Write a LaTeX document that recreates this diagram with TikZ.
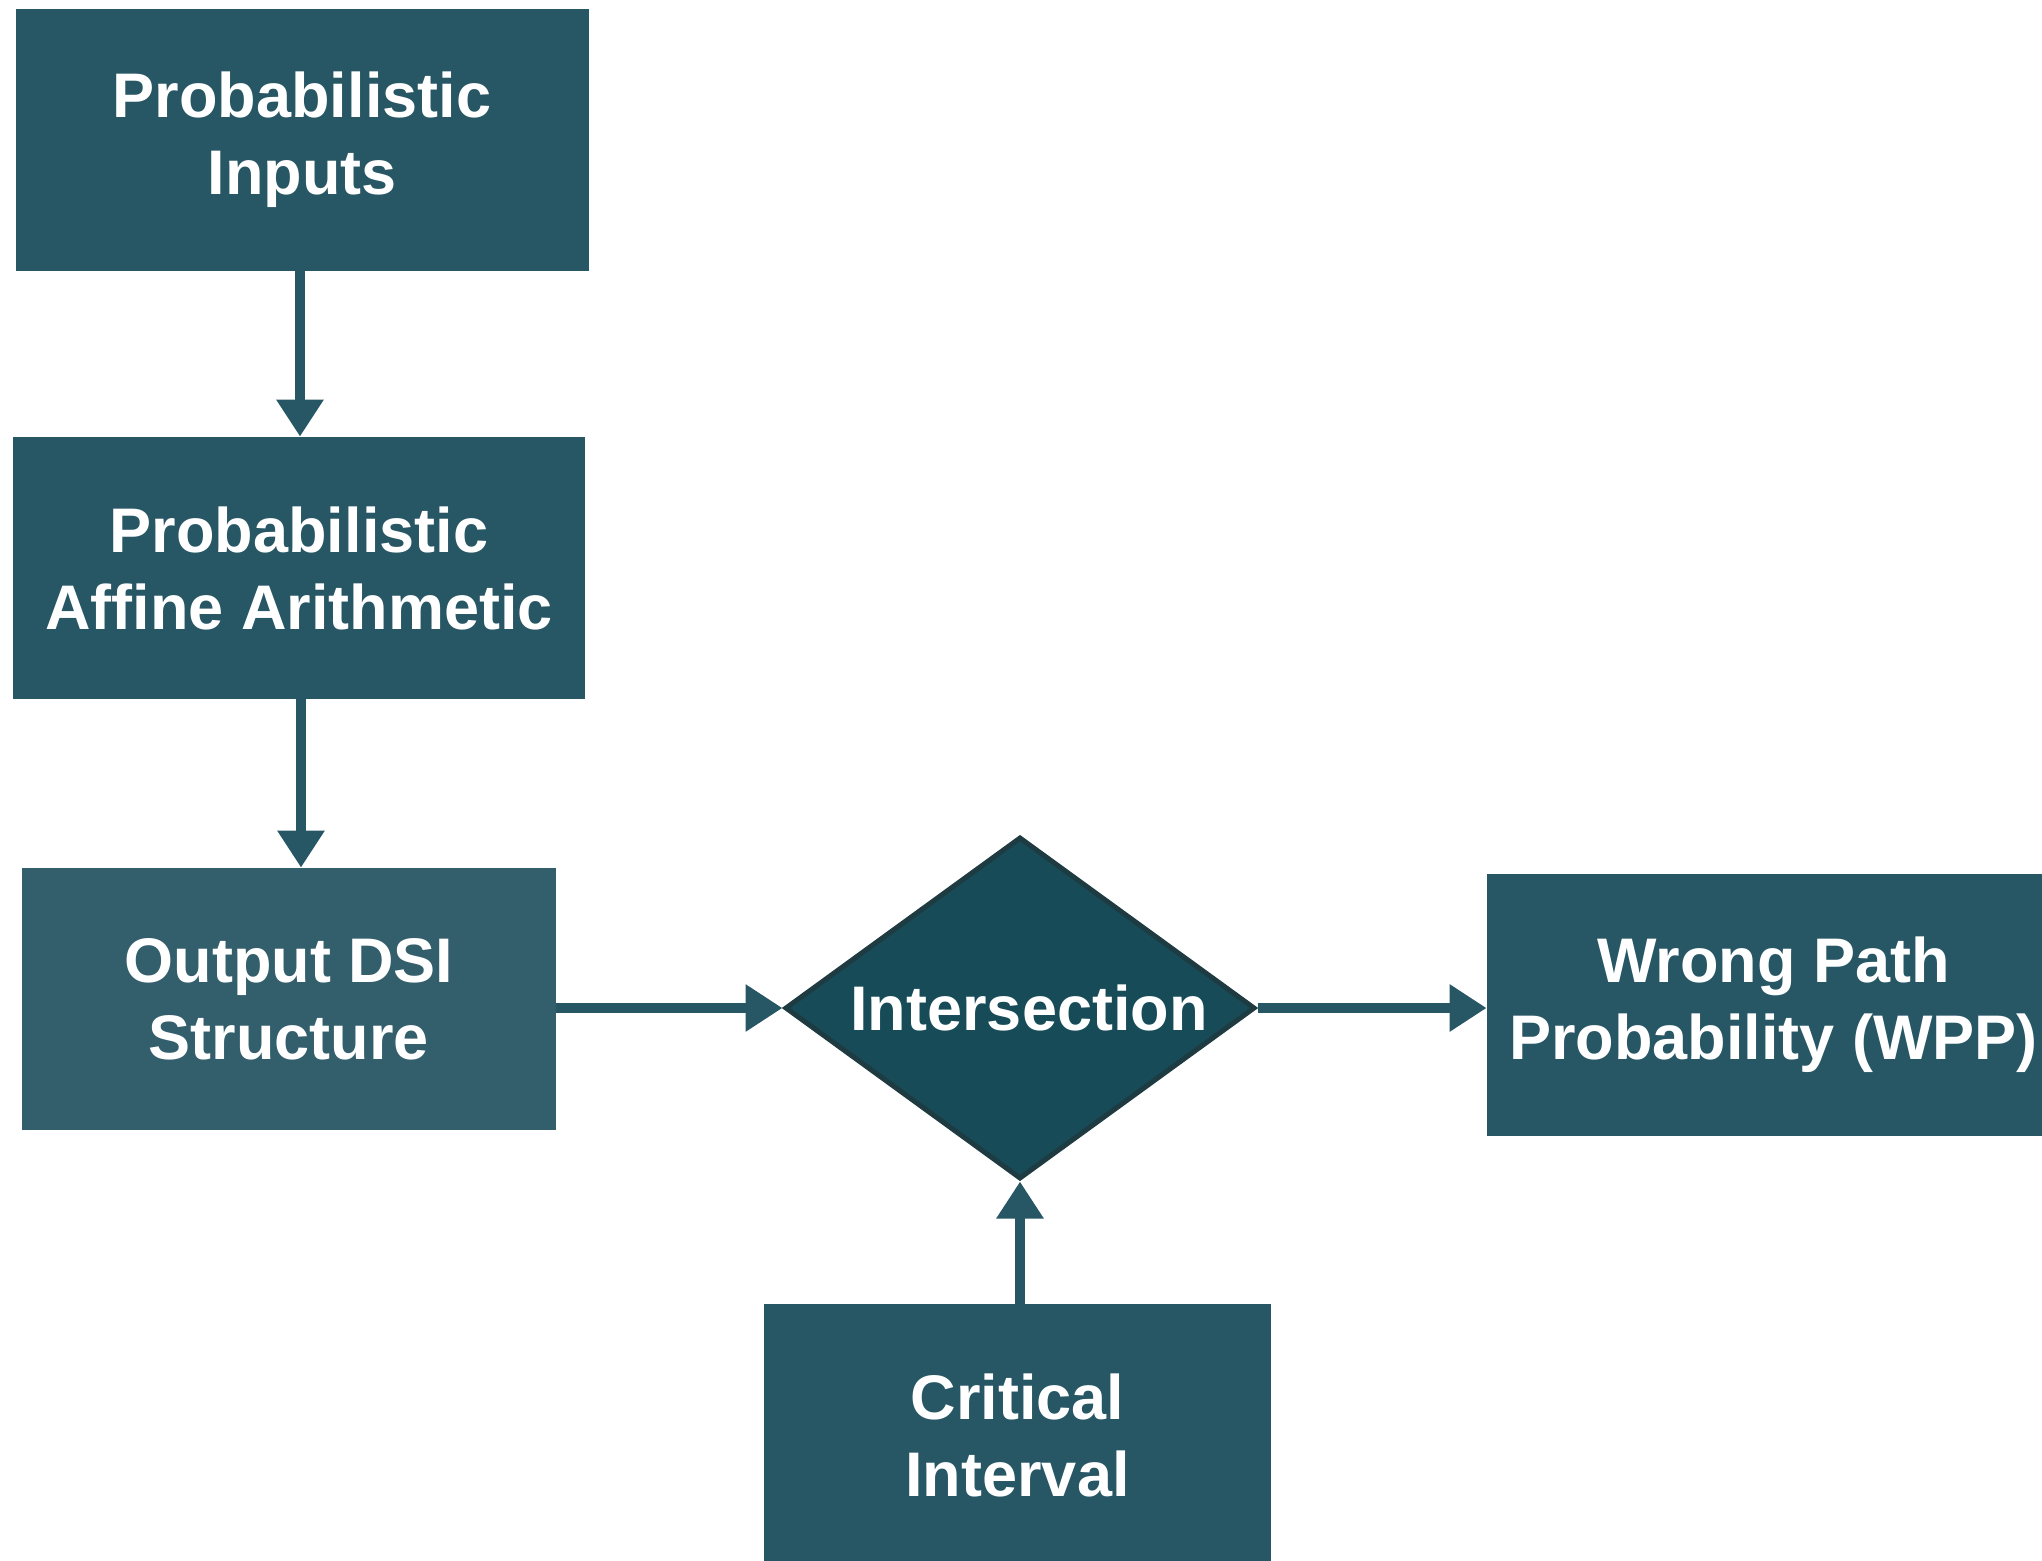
\documentclass[tikz,border=0pt]{standalone}
\usepackage{fontspec}
\setmainfont{Liberation Sans}
\usetikzlibrary{arrows.meta,shapes.geometric}
\definecolor{boxteal}{HTML}{275664}
\definecolor{boxlight}{HTML}{335E6C}
\definecolor{diafill}{HTML}{164B57}
\definecolor{diaedge}{HTML}{1E3B42}
\begin{document}
\begin{tikzpicture}[
  x=1pt, y=1pt,
  stagebox/.style={rectangle, fill=boxteal, text=white, align=center, inner sep=0pt,
    minimum height=131pt,
    font=\fontsize{31.5}{38.5}\selectfont\bfseries},
  flow/.style={draw=boxteal, line width=5.35pt,
    -{Triangle[length=18.5pt, width=22.5pt]}},
  label/.style={text=white, align=center, font=\fontsize{31.5}{38.5}\selectfont\bfseries}
]
\useasboundingbox (0,0) rectangle (1021,-780);
\clip (0,0) rectangle (1021,-780);

% process boxes
\node[stagebox, minimum width=286.5pt] (pin) at (151,-70) {Probabilistic\\Inputs};
\node[stagebox, minimum width=286pt] (paa) at (149.5,-284) {Probabilistic\\Affine Arithmetic};
\node[stagebox, fill=boxlight, minimum width=267pt] (ods) at (144.5,-499.5) {Output DSI\\Structure};
\node[stagebox, minimum width=286.5pt] (wpp) at (886.75,-502.5) {Wrong Path\\Probability (WPP)};
\node[stagebox, minimum width=253.5pt] (cri) at (508.75,-717.5) {Critical\\Interval};

% decision diamond
\node[diamond, draw=diaedge, fill=diafill, line width=2.5pt, inner sep=0pt,
      minimum width=235pt, minimum height=171pt] (dia) at (510,-504) {};
\node[label] (diatext) at (514.5,-504) {Intersection};

% connectors
\draw[flow] (pin.south -| 150,0) -- (150,0 |- paa.north);
\draw[flow] (paa.south -| 150.5,0) -- (150.5,0 |- ods.north);
\draw[flow] (ods.east |- dia.west) -- (dia.west);
\draw[flow] (dia.east) -- (wpp.west |- dia.east);
\draw[flow] (dia.south |- cri.north) -- (dia.south);
\end{tikzpicture}
\end{document}
